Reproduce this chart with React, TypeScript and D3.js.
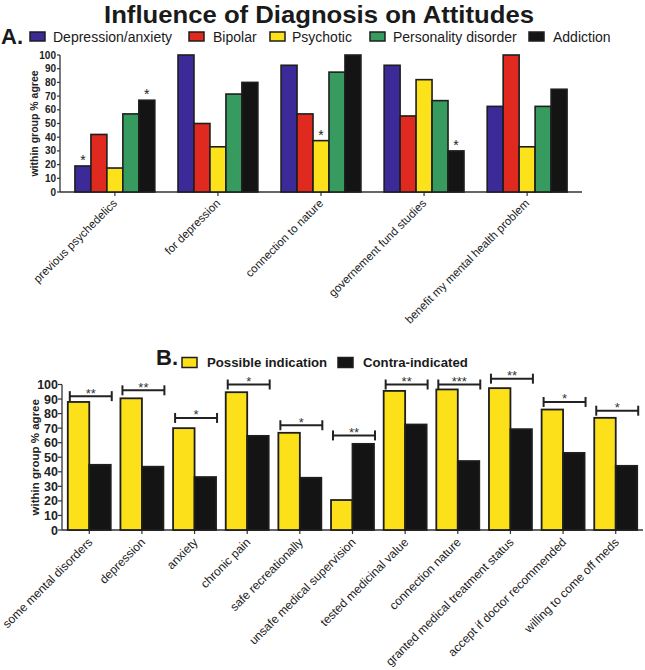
import React from "react";
import * as d3 from "d3";

const categoriesA = [
  "previous psychedelics",
  "for depression",
  "connection to nature",
  "governement fund studies",
  "benefit my mental health problem",
];
const seriesA = ["Depression/anxiety", "Bipolar", "Psychotic", "Personality disorder", "Addiction"];
const depressionAnxiety = [19, 100, 92.5, 92.5, 62.5];
const bipolar = [42, 50, 57, 55.5, 100];
const psychotic = [17.5, 33, 37.5, 82, 33];
const personalityDisorder = [57, 71.5, 87.5, 66.7, 62.5];
const addiction = [67, 80, 100, 30, 75];
const starsA = [
  { series: "Depression/anxiety", category: "previous psychedelics" },
  { series: "Addiction", category: "previous psychedelics" },
  { series: "Psychotic", category: "connection to nature" },
  { series: "Addiction", category: "governement fund studies" },
];

const categoriesB = [
  "some mental disorders",
  "depression",
  "anxiety",
  "chronic pain",
  "safe recreationally",
  "unsafe medical supervision",
  "tested medicinal value",
  "connection nature",
  "granted medical treatment status",
  "accept if doctor recommended",
  "willing to come off meds",
];
const seriesB = ["Possible indication", "Contra-indicated"];
const possibleIndication = [88, 90.5, 70, 94.7, 66.8, 20.6, 95.6, 96.6, 97.5, 82.8, 77.1];
const contraIndicated = [44.8, 43.5, 36.4, 64.7, 35.9, 59.2, 72.5, 47.4, 69.3, 53, 44.1];
const significanceB = ["**", "**", "*", "*", "*", "**", "**", "***", "**", "*", "*"];
const bracketLevelB = [92, 96, 77, 100, 72, 65, 100, 100, 104, 88, 82];

const yTicks = d3.range(0, 101, 10);

const colorsA = ["#3b2a97", "#e0291f", "#fce21a", "#379a5f", "#141414"];
const colorsB = ["#fbe01a", "#141414"];
const FONT = "'Liberation Sans', Arial, Helvetica, sans-serif";
const STROKE = "#1e1e1e";

export default function App() {
  const valuesA = [depressionAnxiety, bipolar, psychotic, personalityDisorder, addiction];
  const valuesB = [possibleIndication, contraIndicated];

  // Chart A scales
  const xA = d3.scaleBand<string>().domain(categoriesA).range([60, 582]).paddingInner(0.225).paddingOuter(0.145);
  const x1A = d3.scaleBand<string>().domain(seriesA).range([0, xA.bandwidth()]);
  const yA = d3.scaleLinear().domain([0, 100]).range([192, 55]);
  const colA = d3.scaleOrdinal<string, string>().domain(seriesA).range(colorsA);

  // Chart B scales
  const xB = d3.scaleBand<string>().domain(categoriesB).range([62, 643]).paddingInner(0.184).paddingOuter(0.11);
  const x1B = d3.scaleBand<string>().domain(seriesB).range([0, xB.bandwidth()]);
  const yB = d3.scaleLinear().domain([0, 100]).range([530, 384.5]);
  const colB = d3.scaleOrdinal<string, string>().domain(seriesB).range(colorsB);

  const legendA = [
    { x: 30, tx: 53 },
    { x: 189, tx: 213 },
    { x: 270, tx: 292 },
    { x: 370, tx: 393 },
    { x: 529, tx: 553 },
  ];
  const legendB = [
    { x: 182, tx: 207 },
    { x: 338, tx: 363 },
  ];

  return (
    <svg
      width={645}
      height={670}
      style={{ position: "absolute", left: 0, top: 0, background: "#fff" }}
      fontFamily={FONT}
    >
      <rect x={0} y={0} width={645} height={670} fill="#fff" />
      {/* Title */}
      <text x={319} y={22.5} textAnchor="middle" fontSize={24.5} fontWeight="bold" fill="#1a1a1a" textLength={430} lengthAdjust="spacingAndGlyphs">
        Influence of Diagnosis on Attitudes
      </text>

      {/* Legend A */}
      <text x={1} y={44} fontSize={22} fontWeight="bold" fill="#1a1a1a">A.</text>
      {seriesA.map((s, i) => (
        <g key={s}>
          <rect x={legendA[i].x} y={32} width={15} height={9} fill={colA(s)} stroke={STROKE} strokeWidth={1.5} />
          <text x={legendA[i].tx} y={41.5} fontSize={14} fill="#1a1a1a">{s}</text>
        </g>
      ))}

      {/* Chart A axes */}
      <g>
        <line x1={60} x2={60} y1={yA(100)} y2={yA(0)} stroke="#333" strokeWidth={1.3} />
        <line x1={60} x2={582} y1={yA(0)} y2={yA(0)} stroke="#333" strokeWidth={1.3} />
        {yTicks.map((t) => (
          <g key={t}>
            <line x1={57} x2={60} y1={yA(t)} y2={yA(t)} stroke="#333" strokeWidth={1.2} />
            <text x={56} y={yA(t) + 3.5} textAnchor="end" fontSize={10} fontWeight="bold" fill="#222">{t}</text>
          </g>
        ))}
        {categoriesA.map((c) => {
          const cx = (xA(c) as number) + xA.bandwidth() / 2;
          return (
            <g key={c}>
              <line x1={cx} x2={cx} y1={yA(0)} y2={yA(0) + 4} stroke="#333" strokeWidth={1.2} />
              <text
                transform={`translate(${cx + 3},${yA(0) + 12}) rotate(-45)`}
                textAnchor="end"
                fontSize={11.5}
                fill="#1a1a1a"
              >
                {c}
              </text>
            </g>
          );
        })}
        <text transform={`translate(38,${(yA(0) + yA(100)) / 2}) rotate(-90)`} textAnchor="middle" fontSize={10.5} fontWeight="bold" fill="#222">
          within group % agree
        </text>
      </g>

      {/* Chart A bars */}
      {categoriesA.map((c, ci) => (
        <g key={c} transform={`translate(${xA(c)},0)`}>
          {seriesA.map((s, si) => (
            <rect
              key={s}
              x={x1A(s) as number}
              y={yA(valuesA[si][ci])}
              width={x1A.bandwidth()}
              height={yA(0) - yA(valuesA[si][ci])}
              fill={colA(s)}
              stroke={STROKE}
              strokeWidth={1.6}
            />
          ))}
        </g>
      ))}
      {starsA.map((st, i) => {
        const ci = categoriesA.indexOf(st.category);
        const si = seriesA.indexOf(st.series);
        const cx = (xA(st.category) as number) + (x1A(st.series) as number) + x1A.bandwidth() / 2;
        return (
          <text key={i} x={cx} y={yA(valuesA[si][ci]) - 1} textAnchor="middle" fontSize={14} fill="#222">*</text>
        );
      })}

      {/* Legend B */}
      <text x={156} y={364.5} fontSize={22} fontWeight="bold" fill="#1a1a1a">B.</text>
      {seriesB.map((s, i) => (
        <g key={s}>
          <rect x={legendB[i].x} y={357.5} width={15} height={10} fill={colB(s)} stroke={STROKE} strokeWidth={1.5} />
          <text x={legendB[i].tx} y={367} fontSize={13.2} fontWeight="bold" fill="#1a1a1a">{s}</text>
        </g>
      ))}

      {/* Chart B axes */}
      <g>
        <line x1={62} x2={62} y1={yB(100)} y2={yB(0)} stroke="#333" strokeWidth={1.3} />
        <line x1={62} x2={643} y1={yB(0)} y2={yB(0)} stroke="#333" strokeWidth={1.3} />
        {yTicks.map((t) => (
          <g key={t}>
            <line x1={58} x2={62} y1={yB(t)} y2={yB(t)} stroke="#333" strokeWidth={1.2} />
            <text x={58} y={yB(t) + 4.5} textAnchor="end" fontSize={12.5} fontWeight="bold" fill="#222">{t}</text>
          </g>
        ))}
        {categoriesB.map((c) => {
          const cx = (xB(c) as number) + xB.bandwidth() / 2;
          return (
            <g key={c}>
              <line x1={cx} x2={cx} y1={yB(0)} y2={yB(0) + 4} stroke="#333" strokeWidth={1.2} />
              <text
                transform={`translate(${cx + 4},${yB(0) + 13}) rotate(-45)`}
                textAnchor="end"
                fontSize={12}
                fill="#1a1a1a"
              >
                {c}
              </text>
            </g>
          );
        })}
        <text transform={`translate(39,${(yB(0) + yB(100)) / 2}) rotate(-90)`} textAnchor="middle" fontSize={11.5} fontWeight="bold" fill="#222">
          within group % agree
        </text>
      </g>

      {/* Chart B bars */}
      {categoriesB.map((c, ci) => (
        <g key={c} transform={`translate(${xB(c)},0)`}>
          {seriesB.map((s, si) => (
            <rect
              key={s}
              x={x1B(s) as number}
              y={yB(valuesB[si][ci])}
              width={x1B.bandwidth()}
              height={yB(0) - yB(valuesB[si][ci])}
              fill={colB(s)}
              stroke={STROKE}
              strokeWidth={1.8}
            />
          ))}
        </g>
      ))}

      {/* Significance brackets */}
      {categoriesB.map((c, ci) => {
        const x0 = (xB(c) as number) + 2;
        const x1 = (xB(c) as number) + xB.bandwidth() + 1;
        const y = yB(bracketLevelB[ci]);
        return (
          <g key={c} stroke="#222" strokeWidth={2}>
            <line x1={x0} x2={x1} y1={y} y2={y} />
            <line x1={x0} x2={x0} y1={y - 5} y2={y + 5} />
            <line x1={x1} x2={x1} y1={y - 5} y2={y + 5} />
            <text x={(x0 + x1) / 2} y={y + 1.5} textAnchor="middle" fontSize={13} fill="#333" stroke="none">
              {significanceB[ci]}
            </text>
          </g>
        );
      })}
    </svg>
  );
}
